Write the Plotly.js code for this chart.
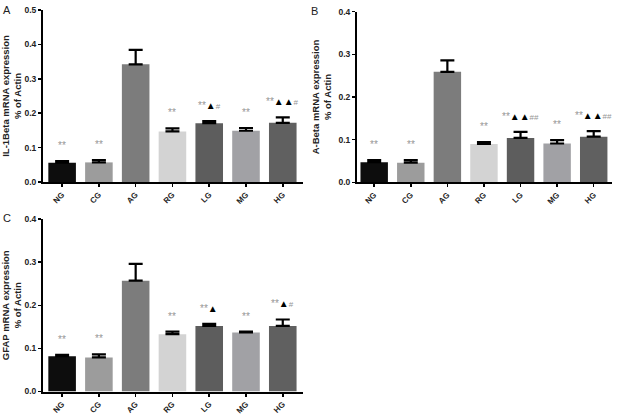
<!DOCTYPE html>
<html><head><meta charset="utf-8">
<script src="https://cdn.plot.ly/plotly-3.0.1.min.js"></script>
<style>html,body{margin:0;padding:0;background:#fff}#chart{width:617px;height:416px}</style>
</head><body><div id="chart"></div>
<script>
const cats = ['NG','CG','AG','RG','LG','MG','HG'];
const barColors = ['#0d0d0d','#9c9c9c','#7c7c7c','#d3d3d3','#5d5d5d','#a1a1a5','#606060'];

const il1b    = [0.056,0.057,0.342,0.147,0.171,0.149,0.172];
const il1bErr = [0.005,0.007,0.042,0.009,0.006,0.008,0.016];
const il1bSig = ['**','**','','**','**▲#','**','**▲▲#'];

const abeta    = [0.047,0.046,0.259,0.090,0.104,0.091,0.107];
const abetaErr = [0.005,0.006,0.027,0.004,0.014,0.008,0.013];
const abetaSig = ['**','**','','**','**▲▲##','**','**▲▲##'];

const gfap    = [0.082,0.079,0.257,0.133,0.152,0.137,0.152];
const gfapErr = [0.003,0.007,0.039,0.006,0.005,0.002,0.015];
const gfapSig = ['**','**','','**','**▲','**','**▲#'];

const W = 617, H = 416;
const FONT = 'Liberation Sans, Arial, sans-serif';
const STAR = 'rgb(150,150,150)';

function barTrace(vals, errs, xa, ya) {
  return {
    type: 'bar', x: cats, y: vals, xaxis: xa, yaxis: ya,
    marker: {color: barColors, line: {width: 0}},
    width: 0.75,
    error_y: {type: 'data', symmetric: false, array: errs, arrayminus: errs.map(() => 0),
              color: '#000', thickness: 2.2, width: 7},
    showlegend: false, hoverinfo: 'skip'
  };
}

function richSig(s) {
  let out = '';
  for (const ch of s) {
    if (ch === '▲') out += '<span style="color:black">▲</span>';
    else if (ch === '#') out += '<span style="font-size:8px">#</span>';
    else out += ch;
  }
  return out;
}

function sigAnns(vals, errs, sig, xa, ya) {
  const anns = [];
  cats.forEach((c, i) => {
    if (!sig[i]) return;
    anns.push({x: i, y: vals[i] + errs[i], xref: xa, yref: ya, text: richSig(sig[i]),
      showarrow: false, yanchor: 'bottom', yshift: 8,
      font: {family: FONT, size: 10, color: STAR}});
  });
  return anns;
}

function px2x(p) { return p / W; }
function px2y(p) { return 1 - p / H; }

function xAxis(d0, d1, anchor, range) {
  return {domain: [px2x(d0), px2x(d1)], anchor: anchor, type: 'category', range: range,
    showline: true, linecolor: '#000', linewidth: 2, ticks: 'outside', ticklen: 3, tickwidth: 1.5,
    tickcolor: '#000', tickangle: -45, showgrid: false, zeroline: false,
    tickfont: {family: FONT, size: 8, color: '#222', weight: 'bold'}};
}
function yAxis(t0, t1, anchor, range, dtick, title) {
  return {domain: [px2y(t1), px2y(t0)], anchor: anchor, range: range, dtick: dtick,
    tickformat: '.1f', showline: true, linecolor: '#000', linewidth: 2, ticks: 'outside',
    ticklen: 3, tickwidth: 1.5, tickcolor: '#000', showgrid: false, zeroline: false,
    tickfont: {family: FONT, size: 8.5, color: '#222', weight: 'bold'},
    title: {text: title, standoff: 5, font: {family: FONT, size: 9.5, color: '#222', weight: 'bold'}}};
}

const data = [
  barTrace(il1b, il1bErr, 'x', 'y'),
  barTrace(abeta, abetaErr, 'x2', 'y2'),
  barTrace(gfap, gfapErr, 'x3', 'y3')
];

const annotations = [].concat(
  sigAnns(il1b, il1bErr, il1bSig, 'x', 'y'),
  sigAnns(abeta, abetaErr, abetaSig, 'x2', 'y2'),
  sigAnns(gfap, gfapErr, gfapSig, 'x3', 'y3'),
  [
    {text: 'A', x: px2x(1), y: px2y(2), xref: 'paper', yref: 'paper', xanchor: 'left', yanchor: 'top', showarrow: false, font: {family: FONT, size: 11, color: '#222'}},
    {text: 'B', x: px2x(309), y: px2y(3), xref: 'paper', yref: 'paper', xanchor: 'left', yanchor: 'top', showarrow: false, font: {family: FONT, size: 11, color: '#222'}},
    {text: 'C', x: px2x(1), y: px2y(210), xref: 'paper', yref: 'paper', xanchor: 'left', yanchor: 'top', showarrow: false, font: {family: FONT, size: 11, color: '#222'}}
  ]
);

const layout = {
  width: W, height: H, margin: {l: 0, r: 0, t: 0, b: 0},
  paper_bgcolor: '#fff', plot_bgcolor: '#fff',
  barmode: 'group', bargap: 0.25,
  xaxis: xAxis(43, 303, 'y', [-0.52, 6.55]),
  yaxis: yAxis(10, 182, 'x', [0, 0.5], 0.1, 'IL-1Beta mRNA expression<br>% of Actin'),
  xaxis2: xAxis(357, 612, 'y2', [-0.47, 6.5]),
  yaxis2: yAxis(11.7, 182.3, 'x2', [0, 0.4], 0.1, 'A-Beta mRNA expression<br>% of Actin'),
  xaxis3: xAxis(43, 303, 'y3', [-0.52, 6.55]),
  yaxis3: yAxis(219, 391.5, 'x3', [0, 0.4], 0.1, 'GFAP mRNA expression<br>% of Actin'),
  annotations: annotations
};

Plotly.newPlot('chart', data, layout, {staticPlot: true, displayModeBar: false});
</script></body></html>
